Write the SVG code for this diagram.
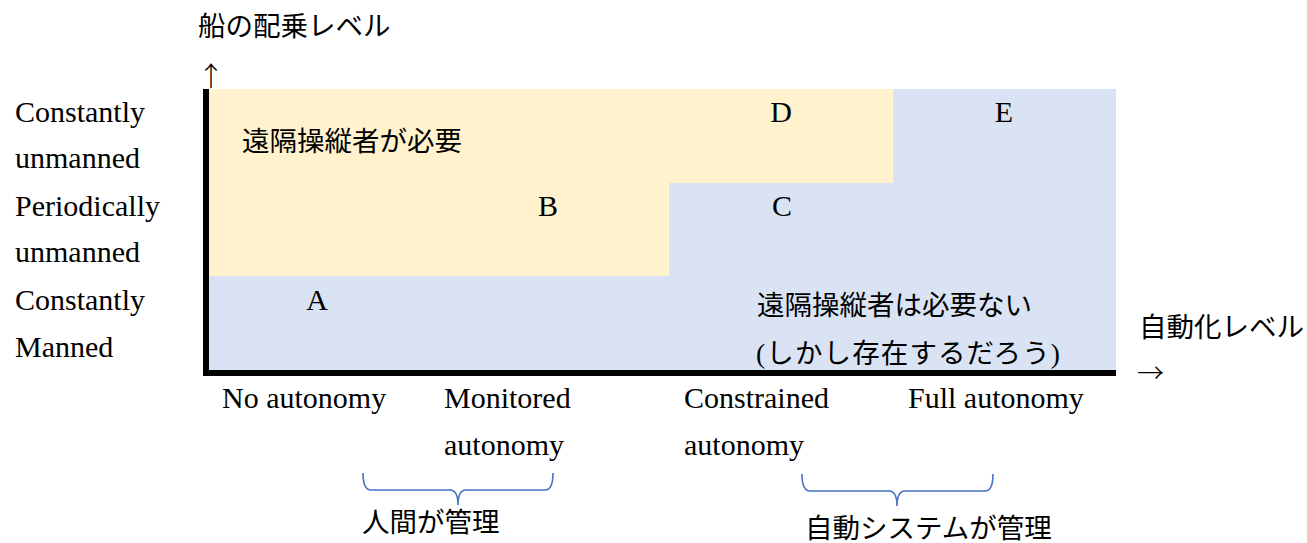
<svg xmlns="http://www.w3.org/2000/svg" width="1307" height="543" viewBox="0 0 1307 543">
<style>
.lat{font-family:"Liberation Serif","Noto Sans CJK JP",serif;font-size:30px;fill:#000}
.jp{font-family:"Liberation Serif","Noto Sans CJK JP",serif;font-size:27.5px;fill:#000}
.arr{font-family:"Noto Sans CJK JP",sans-serif;font-size:27px;fill:#000;font-weight:300}
.mid{text-anchor:middle}
.brace{fill:none;stroke:#4472C4;stroke-width:1.6}
</style>
<rect width="1307" height="543" fill="#fff"/>
<g id="regions">
<rect id="blue" x="209" y="89" width="907" height="281" fill="#DAE3F3"/>
<polygon id="yellow" points="209,89 893,89 893,183 669,183 669,276 209,276" fill="#FFF2CC"/>
</g>
<g id="axes">
<rect x="203" y="89" width="6" height="287" fill="#000"/>
<rect x="203" y="370" width="913" height="6" fill="#000"/>
<text class="jp" x="198" y="36">船の配乗レベル</text>
<text class="arr mid" x="211" y="86">↑</text>
<text class="jp" x="1139" y="337">自動化レベル</text>
<text class="arr" x="1137" y="383">→</text>
</g>
<g id="ylabels">
<text class="lat" x="15" y="122">Constantly</text>
<text class="lat" x="15" y="168">unmanned</text>
<text class="lat" x="15" y="216">Periodically</text>
<text class="lat" x="15" y="262">unmanned</text>
<text class="lat" x="15" y="310">Constantly</text>
<text class="lat" x="15" y="357">Manned</text>
</g>
<g id="xlabels">
<text class="lat" x="222" y="408">No autonomy</text>
<text class="lat" x="444" y="408">Monitored</text>
<text class="lat" x="444" y="455">autonomy</text>
<text class="lat" x="684" y="408">Constrained</text>
<text class="lat" x="684" y="455">autonomy</text>
<text class="lat" x="908" y="408">Full autonomy</text>
</g>
<g id="nodeA"><text class="lat mid" x="317" y="310">A</text></g>
<g id="nodeB"><text class="lat mid" x="548" y="216">B</text></g>
<g id="nodeC"><text class="lat mid" x="782" y="216">C</text></g>
<g id="nodeD"><text class="lat mid" x="781" y="122">D</text></g>
<g id="nodeE"><text class="lat mid" x="1004" y="122">E</text></g>
<g id="notes">
<text class="jp" x="242" y="151">遠隔操縦者が必要</text>
<text class="jp" x="757" y="315">遠隔操縦者は必要ない</text>
<text class="jp" x="756" y="363" textLength="304" lengthAdjust="spacing">(しかし存在するだろう)</text>
</g>
<g id="connectors">
<path class="brace" d="M363,473 Q363,490 371,490 L450,490 Q458,490 458,505 Q458,490 466,490 L545,490 Q553,490 553,473"/>
<path class="brace" d="M802,474 Q802,491 810,491 L889,491 Q897,491 897,506 Q897,491 905,491 L985,491 Q993,491 993,474"/>
</g>
<g id="groups">
<text class="jp" x="362" y="532">人間が管理</text>
<text class="jp" x="805" y="538">自動システムが管理</text>
</g>
</svg>
